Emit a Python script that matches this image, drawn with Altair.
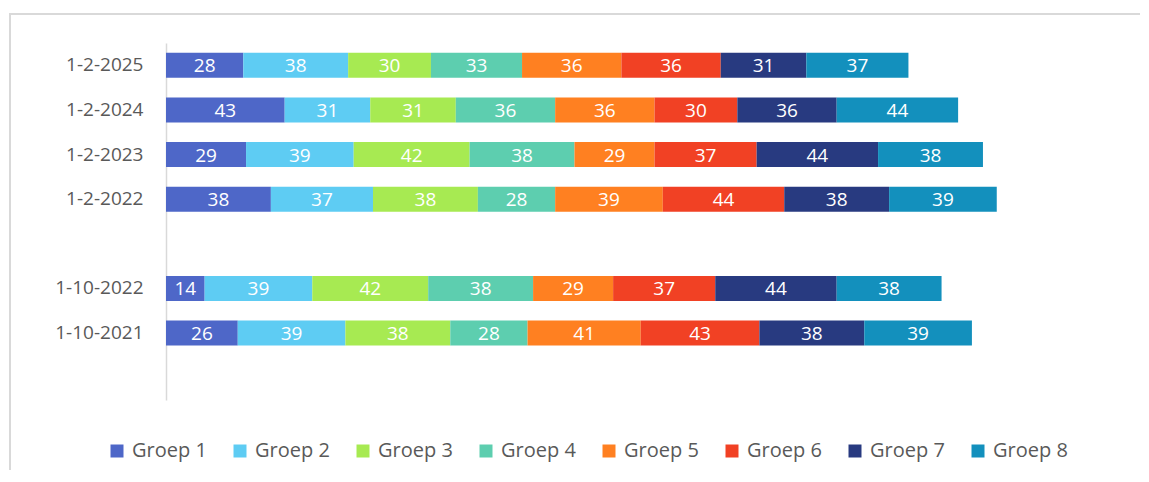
import altair as alt
import pandas as pd

# Row labels (top to bottom); blank strings are the empty gap rows
rows = ["1-2-2025", "1-2-2024", "1-2-2023", "1-2-2022", "1-10-2022", "1-10-2021"]
row_domain = ["1-2-2025", "1-2-2024", "1-2-2023", "1-2-2022", " ", "1-10-2022", "1-10-2021", "  "]

groups = ["Groep 1", "Groep 2", "Groep 3", "Groep 4", "Groep 5", "Groep 6", "Groep 7", "Groep 8"]
colors = ["#4E67C8", "#5ECCF3", "#A7EA52", "#5DCEAF", "#FF8021", "#F14124", "#283A80", "#1390BD"]

groep1 = [28, 43, 29, 38, 14, 26]
groep2 = [38, 31, 39, 37, 39, 39]
groep3 = [30, 31, 42, 38, 42, 38]
groep4 = [33, 36, 38, 28, 38, 28]
groep5 = [36, 36, 29, 39, 29, 41]
groep6 = [36, 30, 37, 44, 37, 43]
groep7 = [31, 36, 44, 38, 44, 38]
groep8 = [37, 44, 38, 39, 38, 39]

series = [groep1, groep2, groep3, groep4, groep5, groep6, groep7, groep8]

records = []
for gi, (g, vals) in enumerate(zip(groups, series)):
    for r, v in zip(rows, vals):
        records.append({"row": r, "groep": g, "order": gi, "value": v})
df = pd.DataFrame(records)

base = alt.Chart(df).transform_stack(
    stack="value", groupby=["row"], sort=[alt.SortField("order")], as_=["x0", "x1"]
).transform_calculate(mid="(datum.x0 + datum.x1) / 2")

yscale = alt.Scale(domain=row_domain, paddingInner=0.44, paddingOuter=0.22)
xscale = alt.Scale(domain=[0, 350], nice=False, zero=True)

y_enc = alt.Y(
    "row:N",
    scale=yscale,
    axis=alt.Axis(
        title=None, ticks=False, grid=False,
        domainColor="#D9D9D9", domainWidth=1.5,
        labelFont="Open Sans", labelFontSize=19, labelColor="#595959",
        labelPadding=23,
    ),
)

bars = base.mark_bar().encode(
    x=alt.X("x0:Q", scale=xscale, axis=None),
    x2="x1:Q",
    y=y_enc,
    color=alt.Color(
        "groep:N",
        scale=alt.Scale(domain=groups, range=colors),
        legend=alt.Legend(
            title=None, orient="none", legendX=-59, legendY=398,
            direction="horizontal", columns=8, columnPadding=23,
            symbolType="square", symbolSize=169, symbolStrokeWidth=0,
            labelFont="Open Sans", labelFontSize=20, labelColor="#595959",
            labelOffset=5,
        ),
    ),
)

labels = base.mark_text(color="white", font="Open Sans", fontSize=19, dy=1).encode(
    x=alt.X("mid:Q", scale=xscale, axis=None),
    y=alt.Y("row:N", scale=yscale),
    text="value:Q",
)

frame = alt.Chart(pd.DataFrame({"a": [0]})).mark_rect(
    fillOpacity=0, stroke="#D9D9D9", strokeWidth=2
).encode(
    x=alt.value(-156), x2=alt.value(1100), y=alt.value(-29), y2=alt.value(500)
)

chart = alt.layer(frame, bars, labels).properties(
    width=966, height=357,
    padding={"left": 158, "top": 35, "right": 8, "bottom": 70},
    autosize=alt.AutoSizeParams(type="none"),
).configure_view(stroke=None)

chart.save("out.html", embed_options={"renderer": "svg", "actions": False})
